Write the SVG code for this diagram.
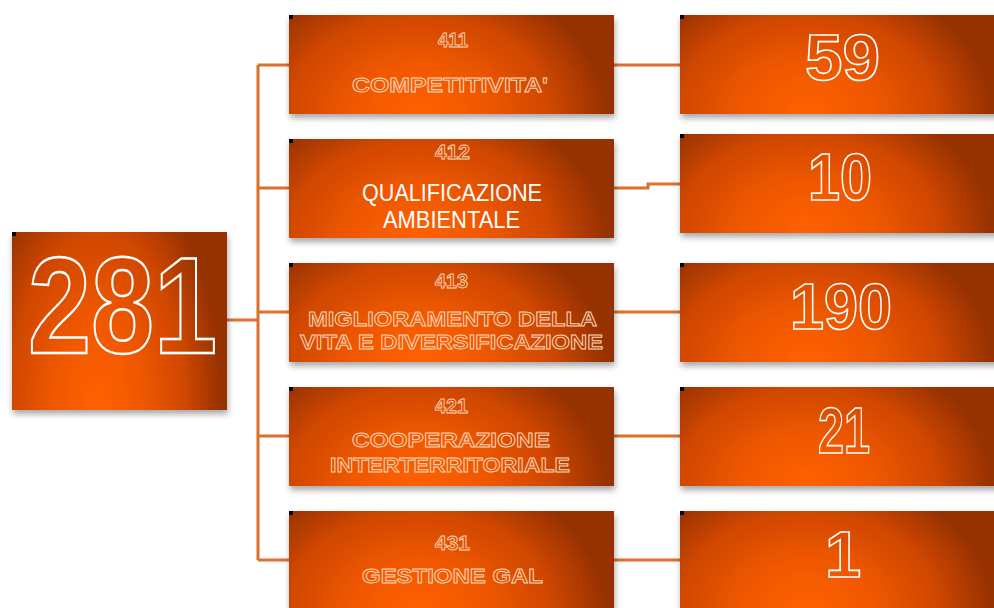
<svg xmlns="http://www.w3.org/2000/svg" width="994" height="608" viewBox="0 0 994 608">
<defs>
<radialGradient id="g" cx="0.4" cy="0.98" r="1" gradientTransform="translate(0.4,0.98) scale(0.58,1.4) translate(-0.4,-0.98)">
<stop offset="0" stop-color="#ff6000"/>
<stop offset="0.35" stop-color="#f05800"/>
<stop offset="0.7" stop-color="#cf4700"/>
<stop offset="1" stop-color="#953100"/>
</radialGradient>
<filter id="sh" x="-10%" y="-10%" width="120%" height="130%">
<feDropShadow dx="1" dy="4" stdDeviation="3" flood-color="#000" flood-opacity="0.35"/>
</filter>
</defs>
<style>
.box{fill:url(#g);filter:url(#sh)}
.mk{fill:#000}
.lbl{font-family:"Liberation Sans",Arial,sans-serif;font-weight:bold;font-size:21px;fill:none;stroke:#fbd6bb;stroke-width:0.9}
.code{font-family:"Liberation Sans",Arial,sans-serif;font-weight:bold;font-size:21px;fill:none;stroke:#fbd6bb;stroke-width:0.9}
.plain{font-family:"Liberation Sans",Arial,sans-serif;font-size:24px;fill:#fff}
.num{font-family:"Liberation Sans",Arial,sans-serif;font-weight:bold;fill:none;stroke:#fff;stroke-width:1.6}
.con{fill:none;stroke:#dd6f2c;stroke-width:3}
</style>
<g id="connectors">
<path class="con" d="M227,320 H258 M258,65 V560 M258,65 H289 M258,188 H289 M258,312 H289 M258,436 H289 M258,560 H289"/>
<path class="con" d="M614,65 H680 M614,188 H648 V184 H680 M614,312 H680 M614,436 H680 M614,560 H680"/>
</g>
<g id="n281">
<rect class="box" x="12" y="232" width="215" height="178"/>
<rect class="mk" x="12" y="232" width="4" height="4"/>
<text class="num" x="28" y="353" font-size="138" textLength="189" lengthAdjust="spacingAndGlyphs" style="stroke-width:2.4">281</text>
</g>
<g id="n411">
<rect class="box" x="289" y="15" width="325" height="99"/>
<rect class="mk" x="289" y="15" width="4" height="4"/>
<text class="code" x="438" y="47" textLength="30" lengthAdjust="spacingAndGlyphs">411</text>
<text class="lbl" x="352" y="92" textLength="196" lengthAdjust="spacingAndGlyphs">COMPETITIVITA'</text>
</g>
<g id="n412">
<rect class="box" x="289" y="139" width="325" height="99"/>
<rect class="mk" x="289" y="139" width="4" height="4"/>
<text class="code" x="435" y="159" textLength="35" lengthAdjust="spacingAndGlyphs">412</text>
<text class="plain" x="362" y="201" textLength="180" lengthAdjust="spacingAndGlyphs">QUALIFICAZIONE</text>
<text class="plain" x="383" y="228" textLength="137" lengthAdjust="spacingAndGlyphs">AMBIENTALE</text>
</g>
<g id="n413">
<rect class="box" x="289" y="263" width="325" height="99"/>
<rect class="mk" x="289" y="263" width="4" height="4"/>
<text class="code" x="435" y="288" textLength="33" lengthAdjust="spacingAndGlyphs">413</text>
<text class="lbl" x="308" y="326" textLength="289" lengthAdjust="spacingAndGlyphs">MIGLIORAMENTO DELLA</text>
<text class="lbl" x="300" y="349" textLength="303" lengthAdjust="spacingAndGlyphs">VITA E DIVERSIFICAZIONE</text>
</g>
<g id="n421">
<rect class="box" x="289" y="387" width="325" height="99"/>
<rect class="mk" x="289" y="387" width="4" height="4"/>
<text class="code" x="435" y="413" textLength="33" lengthAdjust="spacingAndGlyphs">421</text>
<text class="lbl" x="352" y="447" textLength="198" lengthAdjust="spacingAndGlyphs">COOPERAZIONE</text>
<text class="lbl" x="330" y="472" textLength="240" lengthAdjust="spacingAndGlyphs">INTERTERRITORIALE</text>
</g>
<g id="n431">
<rect class="box" x="289" y="511" width="325" height="100"/>
<rect class="mk" x="289" y="511" width="4" height="4"/>
<text class="code" x="435" y="550" textLength="35" lengthAdjust="spacingAndGlyphs">431</text>
<text class="lbl" x="362" y="583" textLength="181" lengthAdjust="spacingAndGlyphs">GESTIONE GAL</text>
</g>
<g id="v59">
<rect class="box" x="680" y="15" width="320" height="99"/>
<rect class="mk" x="680" y="15" width="4" height="4"/>
<text class="num" x="805" y="80" font-size="65" textLength="75" lengthAdjust="spacingAndGlyphs">59</text>
</g>
<g id="v10">
<rect class="box" x="680" y="134" width="320" height="99"/>
<rect class="mk" x="680" y="134" width="4" height="4"/>
<text class="num" x="808" y="200" font-size="66" textLength="64" lengthAdjust="spacingAndGlyphs">10</text>
</g>
<g id="v190">
<rect class="box" x="680" y="263" width="320" height="99"/>
<rect class="mk" x="680" y="263" width="4" height="4"/>
<text class="num" x="790" y="329" font-size="65" textLength="102" lengthAdjust="spacingAndGlyphs">190</text>
</g>
<g id="v21">
<rect class="box" x="680" y="387" width="320" height="99"/>
<rect class="mk" x="680" y="387" width="4" height="4"/>
<text class="num" x="818" y="453" font-size="65" textLength="52" lengthAdjust="spacingAndGlyphs">21</text>
</g>
<g id="v1">
<rect class="box" x="680" y="511" width="320" height="100"/>
<rect class="mk" x="680" y="511" width="4" height="4"/>
<text class="num" x="843" y="577" font-size="65" text-anchor="middle">1</text>
</g>
</svg>
